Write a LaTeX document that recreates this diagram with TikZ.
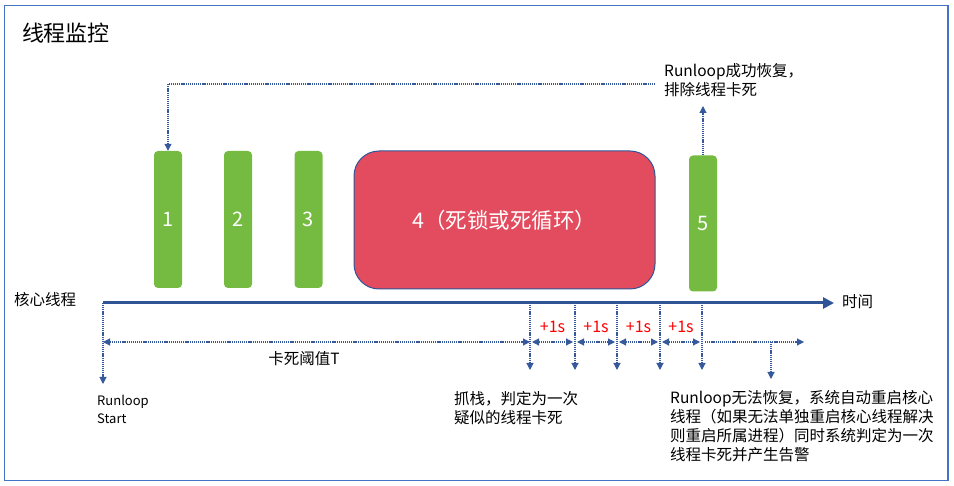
\documentclass[tikz,border=0pt]{standalone}
\usepackage{fontspec}
\setmainfont{Noto Sans CJK SC}
\usetikzlibrary{arrows.meta,calc}
\definecolor{gbox}{HTML}{76BB41}
\definecolor{rbox}{HTML}{E34C5E}
\definecolor{axis}{HTML}{2F5597}
\definecolor{frame}{HTML}{4472C4}
\definecolor{dotc}{HTML}{35599C}
\tikzset{
  greenbox/.style={fill=gbox, rounded corners=4pt, minimum width=28pt, inner sep=0pt, text=white, font=\fontsize{20}{24}\selectfont},
  redbox/.style={fill=rbox, draw=axis, line width=1pt, rounded corners=25pt, minimum width=301pt, minimum height=138pt, inner sep=0pt, text=white, font=\fontsize{21.5}{24}\selectfont},
  dotline/.style={draw=dotc, line width=1.1pt, dash pattern=on 1.2pt off 0.9pt},
  dotarrow/.style={dotline, -{Triangle[width=7pt,length=7pt]}},
  dotdouble/.style={dotline, {Triangle[width=7pt,length=7pt]}-{Triangle[width=7pt,length=7pt]}},
  lbl/.style={inner sep=0pt, font=\fontsize{15.5}{19}\selectfont, align=left},
  red1s/.style={inner sep=0pt, text=red, font=\fontsize{16}{19}\selectfont},
}
\begin{document}
\begin{tikzpicture}[x=1pt,y=-1pt]
\useasboundingbox (0,0) rectangle (954,486);
\draw[frame, line width=1.2pt] (4.5,5.5) rectangle (948,480.5);
\node[inner sep=0pt, font=\fontsize{22}{26}\selectfont] (title) at (66,33) {线程监控};
% boxes
\node[greenbox, minimum height=137pt] (b1) at (168,219.5) {1};
\node[greenbox, minimum height=137pt] (b2) at (238,219.5) {2};
\node[greenbox, minimum height=137pt] (b3) at (308.5,219.5) {3};
\node[redbox] (b4) at (504.5,220) {4（死锁或死循环）};
\node[greenbox, minimum height=136pt] (b5) at (703,223.5) {5};
% axis
\coordinate (t0) at (103,303);
\coordinate (t1) at (834,303);
\draw[axis, line width=3pt, -{Triangle[width=11pt,length=11pt]}] (t0) -- (t1);
\node[lbl, anchor=west] (core) at (14,300) {核心线程};
\node[lbl, anchor=west] (time) at (842,302) {时间};
% runloop start
\coordinate (rsend) at (103,384);
\draw[dotarrow] (t0) -- (rsend);
\node[lbl, anchor=west, font=\fontsize{13}{18}\selectfont] (rs) at (97,409) {Runloop\\Start};
% threshold
\coordinate (h0) at (103,342);
\coordinate (h1) at (530,342);
\draw[dotdouble] (h0) -- (h1);
\node[lbl] (thr) at (304,359) {卡死阈值T};
% check points
\foreach \i/\x in {1/530,2/575,3/617,4/660,5/702}{
  \coordinate (v\i) at (\x,303);
  \coordinate (w\i) at (\x,370);
  \coordinate (m\i) at (\x,342);
  \draw[dotarrow] (v\i) -- (w\i);
}
\foreach \a/\b in {1/2,2/3,3/4,4/5}{
  \draw[dotdouble, shorten <=2pt, shorten >=2pt] (m\a) -- (m\b);
  \node[red1s] (p\a) at ($ (m\a)!0.5!(m\b) + (0,-15) $) {+1s};
}
\coordinate (hend) at (804,342);
\draw[dotarrow, shorten <=3pt] (m5) -- (hend);
\coordinate (r0) at (771,342);
\coordinate (r1) at (771,379);
\draw[dotarrow] (r0) -- (r1);
% bottom texts
\node[lbl, anchor=west] (stack) at (454,408.5) {抓栈，判定为一次\\疑似的线程卡死};
\node[lbl, anchor=west] (fail) at (670,426.5) {Runloop无法恢复，系统自动重启核心\\线程（如果无法单独重启核心线程解决\\则重启所属进程）同时系统判定为一次\\线程卡死并产生告警};
% top
\node[lbl, anchor=west] (ok) at (664,80.5) {Runloop成功恢复，\\排除线程卡死};
\coordinate (up) at (703,106);
\draw[dotarrow] (b5.north) -- (up);
\coordinate (c0) at (655,84);
\coordinate (c1) at (168,84);
\draw[dotarrow] (c0) -- (c1) -- (b1.north);
\end{tikzpicture}
\end{document}
